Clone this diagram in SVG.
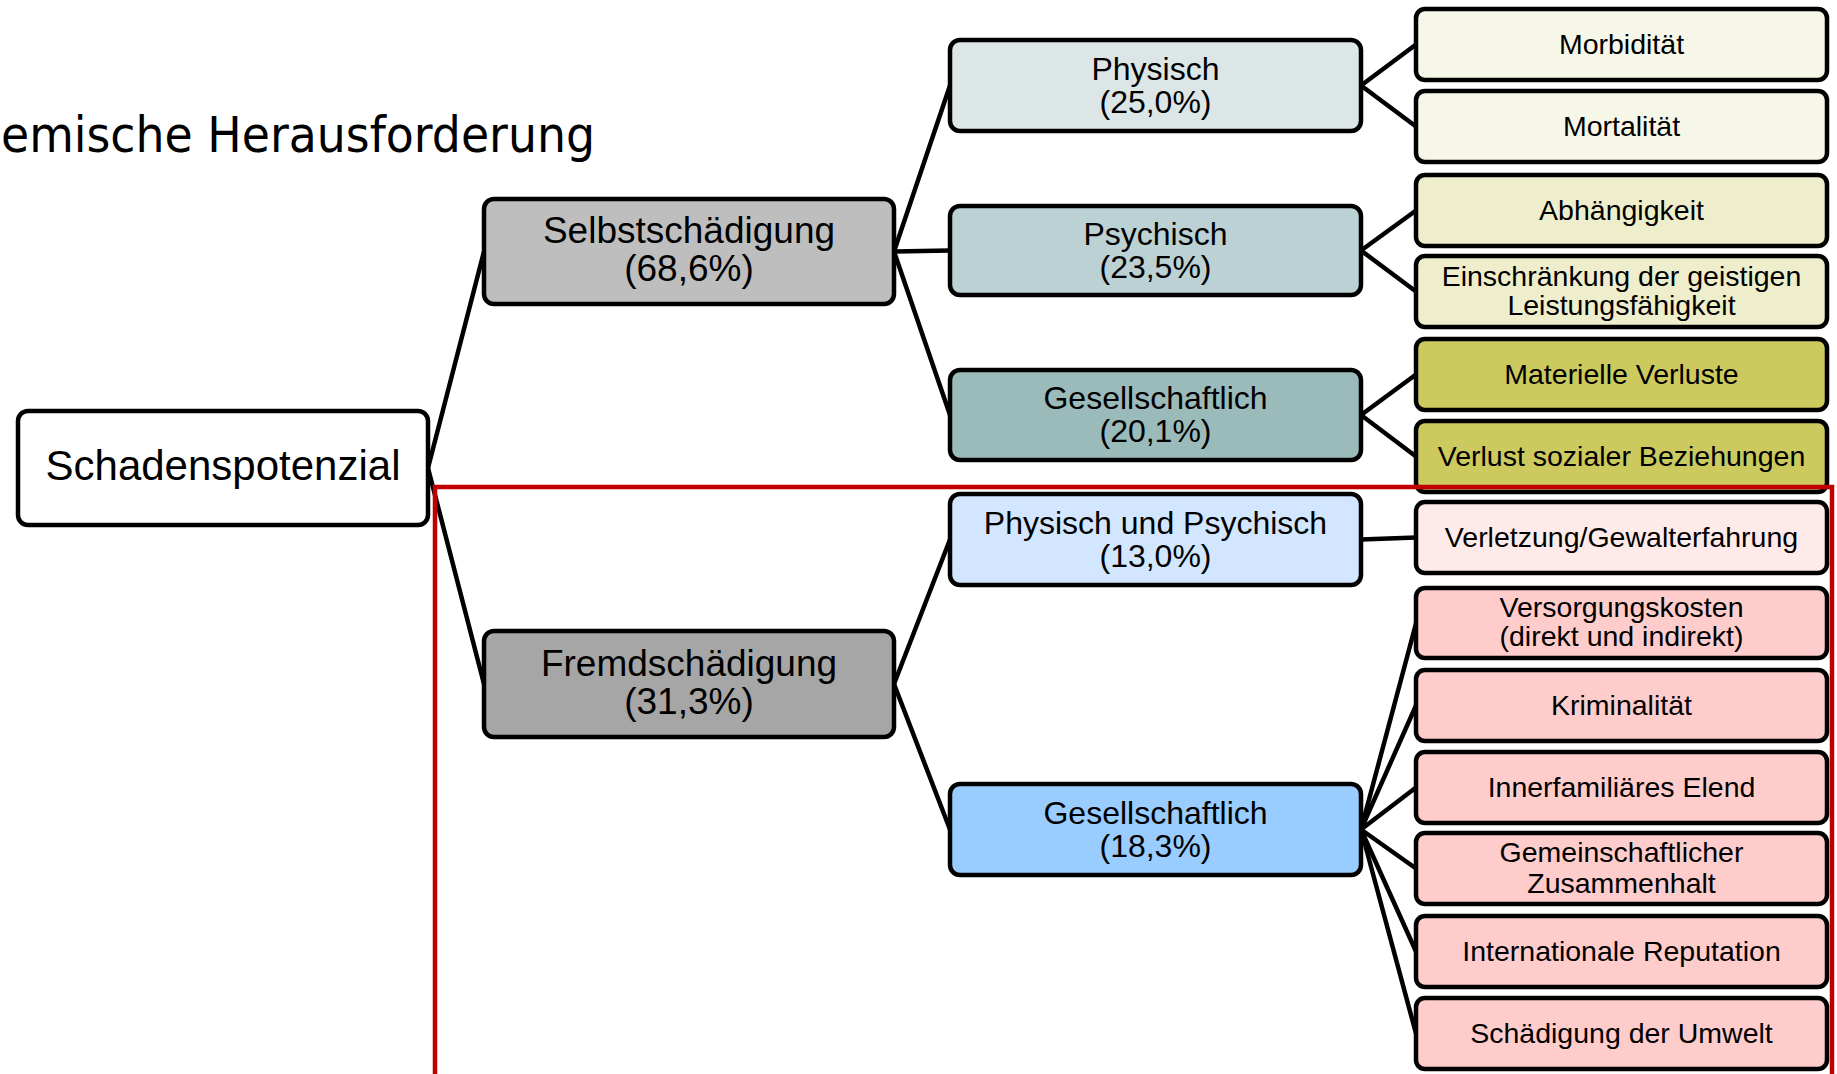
<svg xmlns="http://www.w3.org/2000/svg" width="1837" height="1074" viewBox="0 0 1837 1074">
<style>
.box{stroke:#000;stroke-width:4.5}
.t{font-family:"Liberation Sans",Arial,sans-serif;fill:#000;text-anchor:middle}
.t0{font-size:42px}
.t1{font-size:37px}
.t2{font-size:32px}
.t3{font-size:28.5px}
.con line{stroke:#000;stroke-width:4.5;stroke-linecap:round}
</style>
<rect width="1837" height="1074" fill="#fff"/>
<text x="1" y="151.5" font-family="DejaVu Sans, Verdana, sans-serif" font-size="49" textLength="594" lengthAdjust="spacingAndGlyphs" fill="#000">emische Herausforderung</text>
<g id="connectors" class="con">
<line x1="428" y1="468" x2="484" y2="251.5"/>
<line x1="428" y1="468" x2="484" y2="684"/>
<line x1="894" y1="251.5" x2="950" y2="85.5"/>
<line x1="894" y1="251.5" x2="950" y2="250.5"/>
<line x1="894" y1="251.5" x2="950" y2="415"/>
<line x1="894" y1="684" x2="950" y2="539.5"/>
<line x1="894" y1="684" x2="950" y2="829.5"/>
<line x1="1361" y1="85.5" x2="1416" y2="44.5"/>
<line x1="1361" y1="85.5" x2="1416" y2="126.5"/>
<line x1="1361" y1="250.5" x2="1416" y2="210.5"/>
<line x1="1361" y1="250.5" x2="1416" y2="291.5"/>
<line x1="1361" y1="415" x2="1416" y2="374.5"/>
<line x1="1361" y1="415" x2="1416" y2="456.5"/>
<line x1="1361" y1="539.5" x2="1416" y2="537.5"/>
<line x1="1361" y1="829.5" x2="1416" y2="623.5"/>
<line x1="1361" y1="829.5" x2="1416" y2="705.5"/>
<line x1="1361" y1="829.5" x2="1416" y2="787.5"/>
<line x1="1361" y1="829.5" x2="1416" y2="868.5"/>
<line x1="1361" y1="829.5" x2="1416" y2="951.5"/>
<line x1="1361" y1="829.5" x2="1416" y2="1033.5"/>
</g>
<g id="n-root"><rect class="box" x="18" y="411" width="410" height="114" rx="10" fill="#fff"/><text class="t t0" x="223" y="480">Schadenspotenzial</text></g>
<g id="n-selbst"><rect class="box" x="484" y="199" width="410" height="105" rx="10" fill="#BEBEBE"/><text class="t t1" x="689" y="243">Selbstschädigung</text><text class="t t1" x="689" y="281">(68,6%)</text></g>
<g id="n-fremd"><rect class="box" x="484" y="631" width="410" height="106" rx="10" fill="#A6A6A6"/><text class="t t1" x="689" y="676">Fremdschädigung</text><text class="t t1" x="689" y="714">(31,3%)</text></g>
<g id="n-physisch"><rect class="box" x="950" y="40" width="411" height="91" rx="10" fill="#DCE6E6"/><text class="t t2" x="1155.5" y="79.5">Physisch</text><text class="t t2" x="1155.5" y="112.5">(25,0%)</text></g>
<g id="n-psychisch"><rect class="box" x="950" y="206" width="411" height="89" rx="10" fill="#BBD1D3"/><text class="t t2" x="1155.5" y="244.5">Psychisch</text><text class="t t2" x="1155.5" y="277.5">(23,5%)</text></g>
<g id="n-gesell1"><rect class="box" x="950" y="370" width="411" height="90" rx="10" fill="#9BBBBB"/><text class="t t2" x="1155.5" y="409">Gesellschaftlich</text><text class="t t2" x="1155.5" y="442">(20,1%)</text></g>
<g id="n-physpsych"><rect class="box" x="950" y="494" width="411" height="91" rx="10" fill="#D2E7FF"/><text class="t t2" x="1155.5" y="533.5">Physisch und Psychisch</text><text class="t t2" x="1155.5" y="566.5">(13,0%)</text></g>
<g id="n-gesell2"><rect class="box" x="950" y="784" width="411" height="91" rx="10" fill="#99CCFF"/><text class="t t2" x="1155.5" y="823.5">Gesellschaftlich</text><text class="t t2" x="1155.5" y="856.5">(18,3%)</text></g>
<g id="n-morb"><rect class="box" x="1416" y="9" width="411" height="71" rx="9" fill="#F7F7E9"/><text class="t t3" x="1621.5" y="54">Morbidität</text></g>
<g id="n-mort"><rect class="box" x="1416" y="91" width="411" height="71" rx="9" fill="#F7F7E9"/><text class="t t3" x="1621.5" y="136">Mortalität</text></g>
<g id="n-abh"><rect class="box" x="1416" y="175" width="411" height="71" rx="9" fill="#EEEECC"/><text class="t t3" x="1621.5" y="220">Abhängigkeit</text></g>
<g id="n-einschr"><rect class="box" x="1416" y="256" width="411" height="71" rx="9" fill="#EEEECC"/><text class="t t3" x="1621.5" y="285.5">Einschränkung der geistigen</text><text class="t t3" x="1621.5" y="315">Leistungsfähigkeit</text></g>
<g id="n-mat"><rect class="box" x="1416" y="339" width="411" height="71" rx="9" fill="#CCCA5E"/><text class="t t3" x="1621.5" y="384">Materielle Verluste</text></g>
<g id="n-verlust"><rect class="box" x="1416" y="421" width="411" height="71" rx="9" fill="#CCCA5E"/><text class="t t3" x="1621.5" y="466">Verlust sozialer Beziehungen</text></g>
<g id="n-verletz"><rect class="box" x="1416" y="502" width="411" height="71" rx="9" fill="#FFEAEA"/><text class="t t3" x="1621.5" y="547">Verletzung/Gewalterfahrung</text></g>
<g id="n-versorg"><rect class="box" x="1416" y="588" width="411" height="70" rx="9" fill="#FFCCCC"/><text class="t t3" x="1621.5" y="616.5">Versorgungskosten</text><text class="t t3" x="1621.5" y="645.5">(direkt und indirekt)</text></g>
<g id="n-krim"><rect class="box" x="1416" y="670" width="411" height="71" rx="9" fill="#FFCCCC"/><text class="t t3" x="1621.5" y="715">Kriminalität</text></g>
<g id="n-innerfam"><rect class="box" x="1416" y="752" width="411" height="71" rx="9" fill="#FFCCCC"/><text class="t t3" x="1621.5" y="797">Innerfamiliäres Elend</text></g>
<g id="n-gemein"><rect class="box" x="1416" y="833" width="411" height="71" rx="9" fill="#FFCCCC"/><text class="t t3" x="1621.5" y="862">Gemeinschaftlicher</text><text class="t t3" x="1621.5" y="893">Zusammenhalt</text></g>
<g id="n-intern"><rect class="box" x="1416" y="916" width="411" height="71" rx="9" fill="#FFCCCC"/><text class="t t3" x="1621.5" y="961">Internationale Reputation</text></g>
<g id="n-umwelt"><rect class="box" x="1416" y="998" width="411" height="71" rx="9" fill="#FFCCCC"/><text class="t t3" x="1621.5" y="1043">Schädigung der Umwelt</text></g>
<path id="highlight" d="M435,1080 V487 H1832 V1080" fill="none" stroke="#C00000" stroke-width="4.5"/>
</svg>
